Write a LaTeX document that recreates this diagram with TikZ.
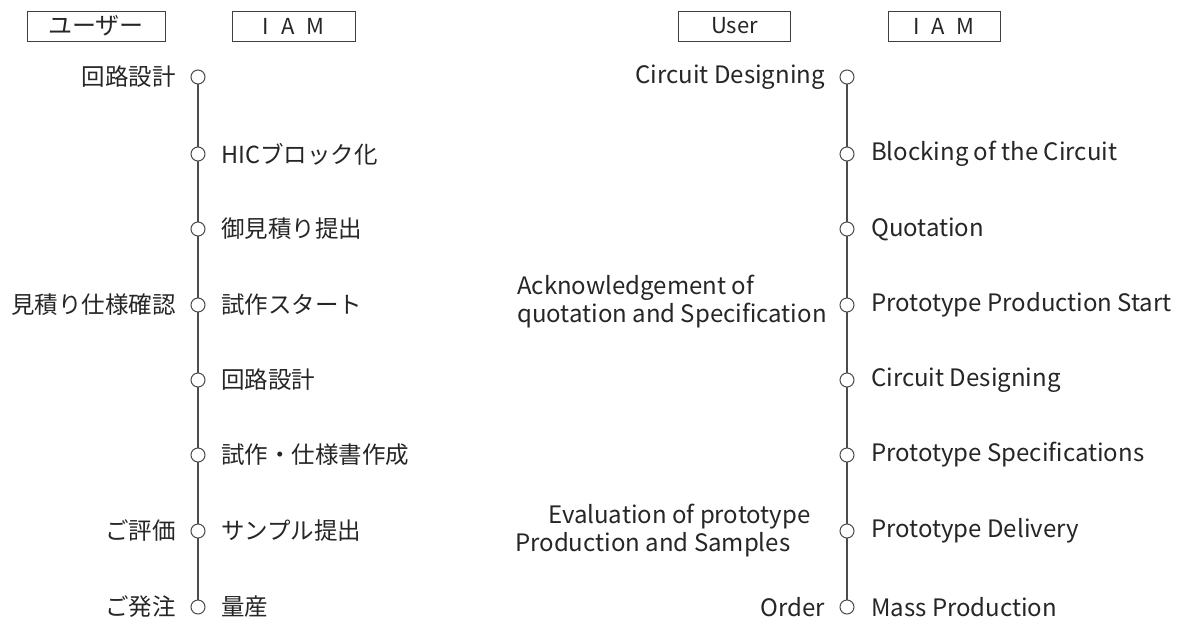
\documentclass[tikz,border=0pt]{standalone}
\usepackage{fontspec}
\setmainfont{Noto Sans CJK JP}
\begin{document}
\begin{tikzpicture}[x=1pt,y=-1pt,
  hdr/.style={draw=black!75,line width=0.9pt,minimum height=30pt,inner sep=0pt,text=black!85},
  dot/.style={circle,draw=black!70,fill=white,line width=1pt,minimum size=14pt,inner sep=0pt},
  tl/.style={draw=black!70,line width=1.1pt},
  lbl/.style={font=\fontsize{24}{28}\selectfont,text=black!85,inner sep=0pt},
  jlbl/.style={font=\fontsize{23.5}{26}\selectfont,text=black!85,inner sep=0pt}
]
\fill[white] (0,0) rectangle (1187,619);
\useasboundingbox (0,0) rectangle (1187,619);
% headers
\node[hdr,minimum width=138pt,font=\fontsize{24}{26}\selectfont] (hU) at (96,26) {ユーザー};
\node[hdr,minimum width=123pt,font=\fontsize{22}{24}\selectfont] (hI) at (293.5,26) {I\hspace{12pt}A\hspace{12pt}M};
\node[hdr,minimum width=112pt,font=\fontsize{22}{24}\selectfont] (hU2) at (734.5,26) {User};
\node[hdr,minimum width=112pt,font=\fontsize{22}{24}\selectfont] (hI2) at (944,26) {I\hspace{12pt}A\hspace{12pt}M};
% timelines
\foreach \i/\y in {1/77,2/154,3/229,4/305,5/380,6/455,7/531,8/607}{
  \coordinate (L\i) at (198,\y);
  \coordinate (R\i) at (847,\y);
}
\draw[tl] (L1) -- (L8);
\draw[tl] (R1) -- (R8);
\foreach \i in {1,...,8}{
  \node[dot] (l\i) at (L\i) {};
  \node[dot] (r\i) at (R\i) {};
}
% left column labels
\node[jlbl,anchor=east] (lu1) at (176,77) {回路設計};
\node[jlbl,anchor=east] (lu4) at (176,305) {見積り仕様確認};
\node[jlbl,anchor=east] (lu7) at (176,531) {ご評価};
\node[jlbl,anchor=east] (lu8) at (176,607) {ご発注};
\node[jlbl,anchor=west] (li2) at (221,154) {HICブロック化};
\node[jlbl,anchor=west] (li3) at (221,229) {御見積り提出};
\node[jlbl,anchor=west] (li4) at (221,305) {試作スタート};
\node[jlbl,anchor=west] (li5) at (221,380) {回路設計};
\node[jlbl,anchor=west] (li6) at (221,455) {試作・仕様書作成};
\node[jlbl,anchor=west] (li7) at (221,531) {サンプル提出};
\node[jlbl,anchor=west] (li8) at (221,607) {量産};
% right column labels
\node[lbl,anchor=east] (ru1) at (825,77) {Circuit Designing};
\node[lbl,anchor=west,align=left] (ru4) at (517,302) {Acknowledgement of\\quotation and Specification};
\node[lbl,anchor=west,align=left] (ru7) at (515,531) {\hspace*{33pt}Evaluation of prototype\\Production and Samples};
\node[lbl,anchor=east] (ru8) at (825,607) {Order};
\node[lbl,anchor=west] (ri2) at (871,154) {Blocking of the Circuit};
\node[lbl,anchor=west] (ri3) at (871,229) {Quotation};
\node[lbl,anchor=west] (ri4) at (871,305) {Prototype Production Start};
\node[lbl,anchor=west] (ri5) at (871,380) {Circuit Designing};
\node[lbl,anchor=west] (ri6) at (871,455) {Prototype Specifications};
\node[lbl,anchor=west] (ri7) at (871,531) {Prototype Delivery};
\node[lbl,anchor=west] (ri8) at (871,607) {Mass Production};
\end{tikzpicture}
\end{document}
